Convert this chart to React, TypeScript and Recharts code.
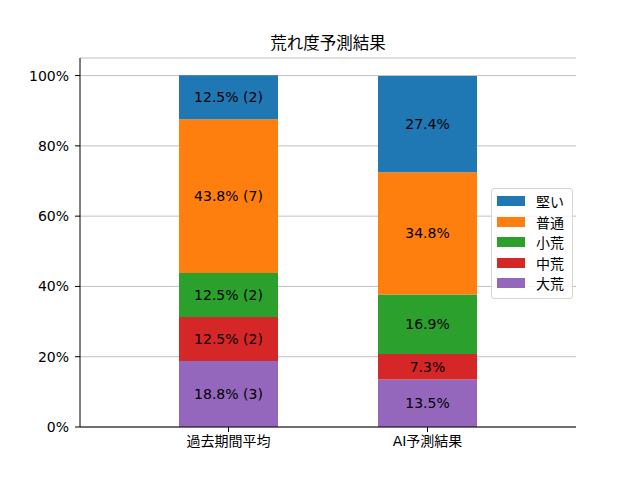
import {
  BarChart,
  Bar,
  XAxis,
  YAxis,
  CartesianGrid,
  LabelList,
  Legend,
} from 'recharts';

// ─── Data ─────────────────────────────────────────────────────────────────────

const categories = ['過去期間平均', 'AI予測結果'];

// percentages per class, one value per category
const taiko  = [18.8, 13.5];   // 大荒
const chuko  = [12.5, 7.3];    // 中荒
const shoko  = [12.5, 16.9];   // 小荒
const futsu  = [43.8, 34.8];   // 普通
const katai  = [12.5, 27.4];   // 堅い

// race counts behind the 過去期間平均 bar (大荒 → 堅い)
const pastCounts = [3, 2, 2, 7, 2];

const yTicks = [0, 20, 40, 60, 80, 100];

// stacking order bottom → top, matplotlib tab10 colours
const series = [
  { key: 'taiko', name: '大荒', values: taiko, color: '#9467bd' },
  { key: 'chuko', name: '中荒', values: chuko, color: '#d62728' },
  { key: 'shoko', name: '小荒', values: shoko, color: '#2ca02c' },
  { key: 'futsu', name: '普通', values: futsu, color: '#ff7f0e' },
  { key: 'katai', name: '堅い', values: katai, color: '#1f77b4' },
];

const rows = categories.map((cat, i) => {
  const row: Record<string, string | number> = { name: cat };
  series.forEach((s, k) => {
    row[s.key] = s.values[i];
    row[`${s.key}_label`] =
      i === 0
        ? `${s.values[i].toFixed(1)}% (${pastCounts[k]})`
        : `${s.values[i].toFixed(1)}%`;
  });
  return row;
});

const FONT = "'DejaVu Sans', 'Noto Sans CJK JP', sans-serif";

// ─── Legend (top of stack first, matplotlib look) ────────────────────────────

function LegendBox() {
  const items = [...series].reverse();
  return (
    <div
      style={{
        background: 'rgba(255,255,255,0.8)',
        border: '1px solid #d6d6d6',
        borderRadius: 3,
        padding: '2px 8px 4px 5px',
        fontFamily: FONT,
        fontSize: 14,
        color: '#000',
      }}
    >
      {items.map((it) => (
        <div
          key={it.key}
          style={{ display: 'flex', alignItems: 'center', height: 20.5 }}
        >
          <span
            style={{
              display: 'inline-block',
              width: 28,
              height: 10,
              background: it.color,
              marginRight: 11,
            }}
          />
          <span>{it.name}</span>
        </div>
      ))}
    </div>
  );
}

// ─── Chart ────────────────────────────────────────────────────────────────────

export default function App() {
  return (
    <div
      style={{
        position: 'fixed',
        left: 0,
        top: 0,
        width: 640,
        height: 480,
        background: '#fff',
        fontFamily: FONT,
      }}
    >
      <div
        style={{
          position: 'absolute',
          left: 80,
          width: 496,
          top: 33,
          textAlign: 'center',
          fontSize: 16.5,
          lineHeight: '22px',
          color: '#000',
        }}
      >
        荒れ度予測結果
      </div>

      <BarChart
        width={640}
        height={480}
        data={rows}
        margin={{ top: 58, right: 64, bottom: 0, left: 0 }}
        style={{ fontFamily: FONT }}
      >
        <CartesianGrid
          vertical={false}
          stroke="#b0b0b0"
          strokeWidth={0.8}
        />
        <XAxis
          dataKey="name"
          height={53}
          padding={{ left: 49, right: 49 }}
          axisLine={{ stroke: '#000' }}
          tickLine={{ stroke: '#000' }}
          tickSize={5}
          tickMargin={4}
          tick={{ fill: '#000', fontSize: 14 }}
        />
        <XAxis
          xAxisId="top"
          dataKey="name"
          orientation="top"
          height={0}
          tick={false}
          tickLine={false}
          axisLine={{ stroke: '#000' }}
        />
        <YAxis
          width={80}
          domain={[0, 105]}
          ticks={yTicks}
          allowDataOverflow
          tickFormatter={(v) => `${v}%`}
          axisLine={{ stroke: '#000' }}
          tickLine={{ stroke: '#000' }}
          tickSize={5}
          tickMargin={6}
          tick={{ fill: '#000', fontSize: 14 }}
        />
        <YAxis
          yAxisId="right"
          orientation="right"
          width={0}
          domain={[0, 105]}
          tick={false}
          tickLine={false}
          axisLine={{ stroke: '#000' }}
        />
        <Legend
          layout="horizontal"
          verticalAlign="middle"
          align="center"
          content={<LegendBox />}
          wrapperStyle={{ position: 'absolute', left: 491, top: 188, width: 'auto' }}
        />
        {series.map((s) => (
          <Bar
            key={s.key}
            dataKey={s.key}
            name={s.name}
            stackId="a"
            fill={s.color}
            barSize={99}
            isAnimationActive={false}
          >
            <LabelList
              dataKey={`${s.key}_label`}
              position="center"
              fill="#000"
              fontSize={14}
            />
          </Bar>
        ))}
      </BarChart>
    </div>
  );
}
